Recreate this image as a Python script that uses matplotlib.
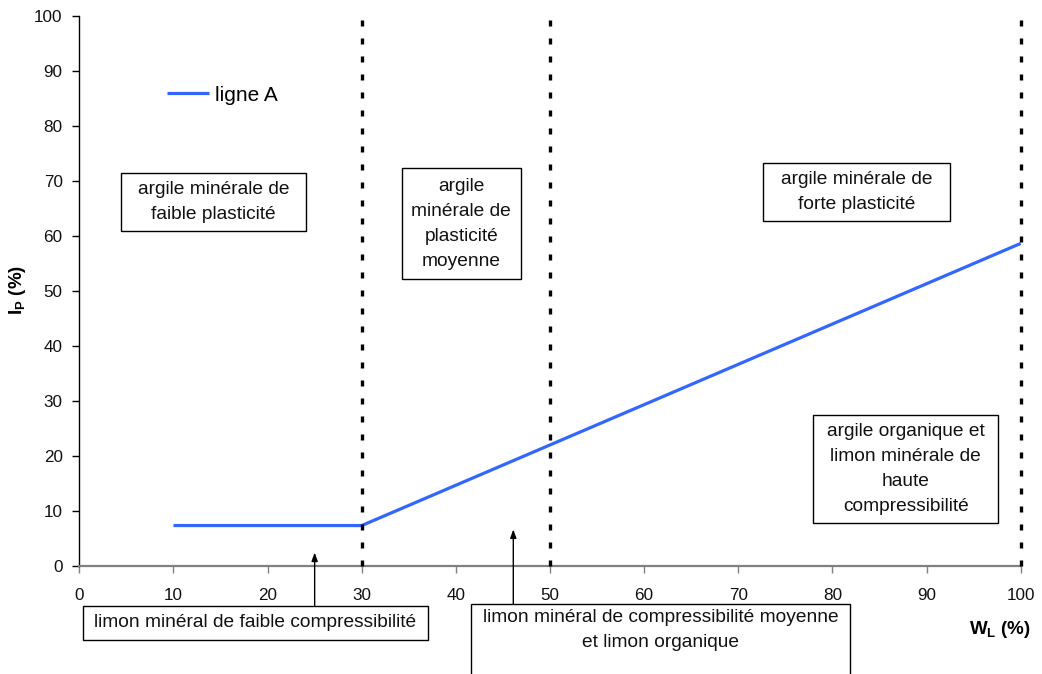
import matplotlib
matplotlib.use("Agg")
import matplotlib.pyplot as plt
from matplotlib.patches import Rectangle

plt.rcParams['font.family'] = ['Liberation Sans', 'DejaVu Sans']
plt.rcParams['mathtext.fontset'] = 'custom'
plt.rcParams['mathtext.rm'] = 'Liberation Sans'
plt.rcParams['mathtext.bf'] = 'Liberation Sans:bold'

# ---- data ----
wl_values = [10, 30, 100]          # W_L (%)
ip_values = [7.3, 7.3, 58.6]       # I_P (%)  (ligne A)
boundaries = [30, 50, 100]         # vertical dotted limits
x_ticks = list(range(0, 101, 10))
y_ticks = list(range(0, 101, 10))
series_label = "ligne A"

region_labels = [
    "argile minérale de\nfaible plasticité",
    "argile\nminérale de\nplasticité\nmoyenne",
    "argile minérale de\nforte plasticité",
    "argile organique et\nlimon minérale de\nhaute\ncompressibilité",
]
bottom_labels = [
    "limon minéral de faible compressibilité",
    "limon minéral de compressibilité moyenne\net limon organique",
]

# ---- layout (data coordinates of annotation boxes) ----
region_boxes = [  # (x0, x1, y0, y1)
    (4.43, 24.08, 60.85, 71.4),
    (34.25, 46.89, 52.07, 72.25),
    (72.63, 92.49, 62.67, 73.16),
    (77.97, 97.62, 7.71, 27.4),
]
bottom_boxes = [
    (0.36, 37.0, -13.5, -7.27),
    (41.58, 81.87, -30.0, -7.02),
]
arrow_pos = [(25.0, -7.27, 2.4), (46.1, -7.02, 6.6)]

fig = plt.figure(figsize=(10.42, 6.74), dpi=100)
ax = fig.add_axes([0.0761, 0.1607, 0.9796 - 0.0761, 0.9767 - 0.1607])

ax.plot(wl_values, ip_values, color='#3366FF', lw=2.3, label=series_label,
        solid_capstyle='butt', zorder=3)

ax.vlines(boundaries, 0, 100, colors='black', linewidth=2.4,
          linestyles=(0, (1.8, 3.6)), zorder=4, clip_on=False)

ax.set_xlim(0, 100)
ax.set_ylim(0, 100)
ax.set_xticks(x_ticks)
ax.set_yticks(y_ticks)
for s in ['top', 'right']:
    ax.spines[s].set_visible(False)
ax.spines['left'].set_color('black')
ax.spines['left'].set_linewidth(1.0)
ax.spines['bottom'].set_color('#808080')
ax.spines['bottom'].set_linewidth(1.6)
ax.tick_params(axis='x', direction='out', length=5, width=1, color='#808080',
               labelsize=12.3, pad=11, labelcolor='#111111')
ax.tick_params(axis='y', direction='out', length=5, width=1, color='black',
               labelsize=12.3, pad=7, labelcolor='#111111')

# legend
ax.legend(loc='center left', bbox_to_anchor=(0.0932, 0.8558), frameon=False,
          borderpad=0, borderaxespad=0, handlelength=2.0, handletextpad=0.3,
          fontsize=15)

# region boxes
fs = 13.8
ls = 1.62
for (x0, x1, y0, y1), txt in zip(region_boxes, region_labels):
    ax.add_patch(Rectangle((x0, y0), x1 - x0, y1 - y0, fill=True, fc='white',
                           ec='black', lw=1.0, zorder=5))
    ax.text((x0 + x1) / 2, (y0 + y1) / 2, txt, ha='center', va='center',
            fontsize=fs, linespacing=ls, zorder=6, color='#111111')

# bottom boxes (outside plot)
for i, ((x0, x1, y0, y1), txt) in enumerate(zip(bottom_boxes, bottom_labels)):
    ax.add_patch(Rectangle((x0, y0), x1 - x0, y1 - y0, fill=True, fc='white',
                           ec='black', lw=1.0, zorder=5, clip_on=False))
    if i == 0:
        ax.text((x0 + x1) / 2, (y0 + y1) / 2, txt, ha='center', va='center',
                fontsize=fs, zorder=6, clip_on=False, color='#111111')
    else:
        ax.text((x0 + x1) / 2, y1 - 0.9, txt, ha='center', va='top',
                fontsize=fs, linespacing=ls, zorder=6, clip_on=False,
                color='#111111')

for x, y0, y1 in arrow_pos:
    ax.annotate('', xy=(x, y1), xytext=(x, y0),
                arrowprops=dict(arrowstyle='-|>,head_length=0.5,head_width=0.18',
                                color='black', lw=1.0, shrinkA=0, shrinkB=0),
                annotation_clip=False)

fig.text(17 / 1042, 1 - 290 / 674, r'$\mathbf{I}_{\mathbf{P}}$ (%)',
         rotation=90, ha='center', va='center', fontsize=13.5, fontweight='bold')
fig.text(969 / 1042, 1 - 630 / 674, r'$\mathbf{W}_{\mathbf{L}}$ (%)',
         ha='left', va='center', fontsize=13.5, fontweight='bold')

fig.savefig('out.png', dpi=100)
